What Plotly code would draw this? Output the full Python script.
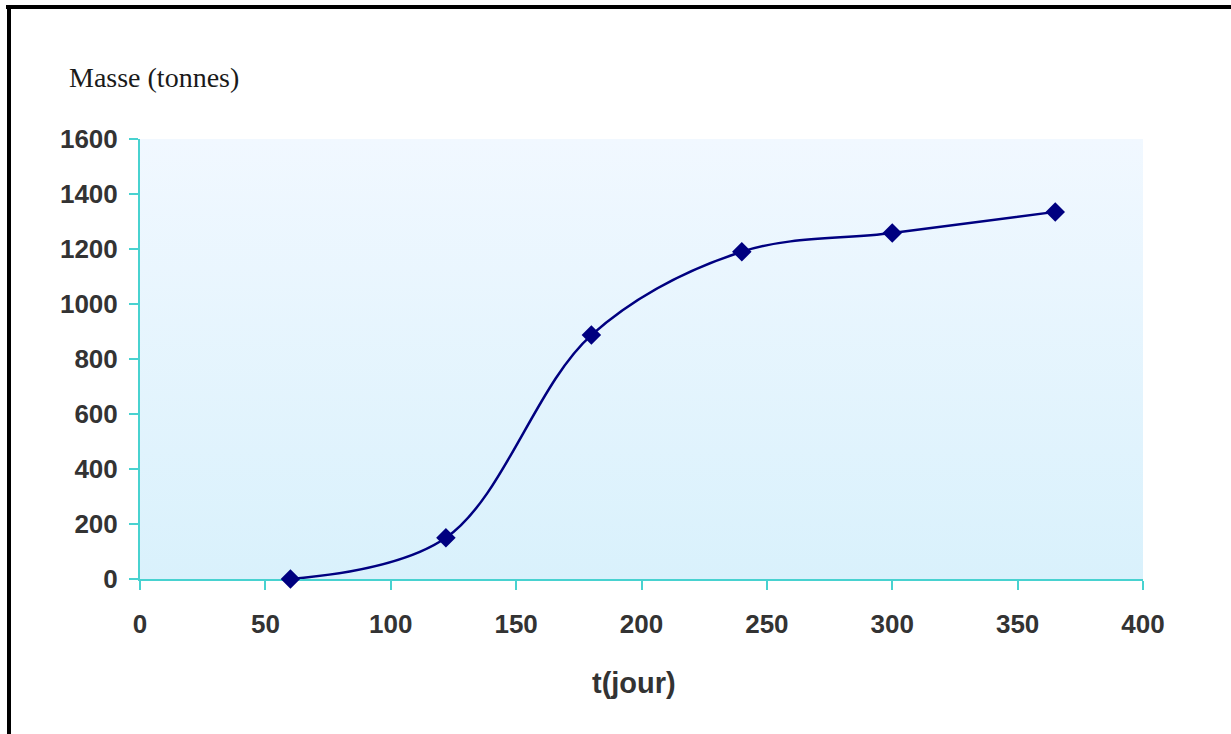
import plotly.graph_objects as go

# Masse cumulée (tonnes) en fonction du temps (jours)
jours = [60, 122, 180, 240, 300, 365]
masse = [0, 150, 887, 1190, 1258, 1335]

x_ticks = [0, 50, 100, 150, 200, 250, 300, 350, 400]
y_ticks = [0, 200, 400, 600, 800, 1000, 1200, 1400, 1600]

W, H = 1231, 734
L, R, T, B = 140, 88, 139, 155
PW, PH = W - L - R, H - T - B


def px_x(p):
    return (p - L) / PW


def px_y(p):
    return (H - B - p) / PH


AXIS = "#48d2d0"
NAVY = "#000080"
TICKFONT = dict(family="Liberation Sans, Arial, sans-serif", size=26,
                color="#333333", weight="bold")

fig = go.Figure()

# gradient background of the plotting area
fig.add_trace(go.Scatter(
    x=[x_ticks[0], x_ticks[-1], x_ticks[-1], x_ticks[0], x_ticks[0]],
    y=[y_ticks[0], y_ticks[0], y_ticks[-1], y_ticks[-1], y_ticks[0]],
    mode="none", fill="toself",
    fillgradient=dict(type="vertical", start=y_ticks[0], stop=y_ticks[-1],
                      colorscale=[[0, "#d9f1fc"], [1, "#f1f8ff"]]),
    hoverinfo="skip", showlegend=False,
))

fig.add_trace(go.Scatter(
    x=jours, y=masse, mode="lines+markers",
    line=dict(color=NAVY, width=2.5, shape="spline", smoothing=1.0),
    marker=dict(symbol="diamond", size=15, color=NAVY),
    cliponaxis=False, showlegend=False,
))

axis_common = dict(
    showgrid=False, zeroline=False, showline=True, linecolor=AXIS, linewidth=2,
    ticks="outside", ticklen=9, tickwidth=2, tickcolor=AXIS,
    tickfont=TICKFONT, fixedrange=True, layer="below traces",
)

fig.update_xaxes(range=[x_ticks[0], x_ticks[-1]], tickvals=x_ticks,
                 ticklabelstandoff=12, **axis_common)
fig.update_yaxes(range=[y_ticks[0], y_ticks[-1]], tickvals=y_ticks,
                 ticklabelstandoff=6, **axis_common)

# frame lines (top and left)
fig.add_shape(type="line", xref="paper", yref="paper",
              x0=px_x(6), x1=px_x(W + 5), y0=px_y(7), y1=px_y(7),
              line=dict(color="black", width=4))
fig.add_shape(type="line", xref="paper", yref="paper",
              x0=px_x(9), x1=px_x(9), y0=px_y(5), y1=px_y(H + 5),
              line=dict(color="black", width=4))

fig.add_annotation(text="Masse (tonnes)", xref="paper", yref="paper",
                   x=px_x(67), y=px_y(78), xanchor="left", yanchor="middle",
                   showarrow=False,
                   font=dict(family="Liberation Serif, Times New Roman, serif",
                             size=28, color="#1a1a1a"))
fig.add_annotation(text="<b>t(jour)</b>", xref="paper", yref="paper",
                   x=px_x(634), y=px_y(683), xanchor="center", yanchor="middle",
                   showarrow=False,
                   font=dict(family="Liberation Sans, Arial, sans-serif",
                             size=29, color="#333333"))

fig.update_layout(
    width=W, height=H,
    margin=dict(l=L, r=R, t=T, b=B),
    paper_bgcolor="white", plot_bgcolor="white",
    font=dict(family="Liberation Sans, Arial, sans-serif"),
)

fig.write_html("out.html", config={"displayModeBar": False})
